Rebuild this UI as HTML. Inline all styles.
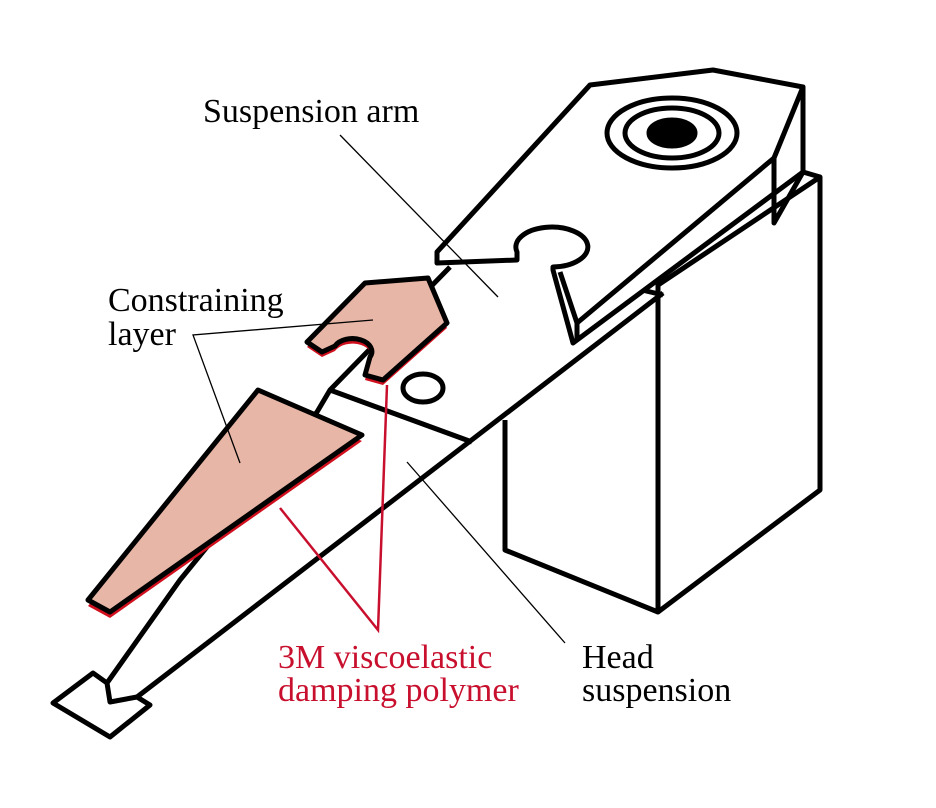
<!DOCTYPE html>
<html><head><style>body{margin:0;background:#fff}svg{display:block}</style></head><body>
<svg width="936" height="808" viewBox="0 0 936 808" xmlns="http://www.w3.org/2000/svg">
<g fill="none" stroke="#000" stroke-width="5" stroke-linejoin="round">
<!-- block -->
<polygon points="658,285 820,177 820,490 658,612" fill="#fff"/>
<polyline points="505,420 505,550 658,612"/>
<path d="M803,172 L820,177"/>
<!-- flexure -->
<path d="M450,267 L330,390 L317,412 L180,580 L107,683"/>
<path d="M330,390 L472,442"/>
<path d="M663,293 L137,697"/>
<path d="M642,290 L663,295"/>
<polygon points="53,703 93,673 107,683 110,702 137,697 150,705 110,737" fill="#fff"/>
<ellipse cx="423" cy="388" rx="20" ry="14"/>
<!-- arm -->
<path d="M437,252 L590,85 L713,70 L803,87 L803,172 L577,340 L573,343 L553,270 L553,267 A36,20 0 1 0 517,252 L517,260 L437,263 Z" fill="#fff"/>
<path d="M803,87 L774,158 L774,223 L803,172"/>
<path d="M774,158 L577,323 L560,272"/>
<path d="M577,323 L577,340"/>
<ellipse cx="672" cy="133" rx="65" ry="35"/>
<ellipse cx="672" cy="133" rx="47" ry="25"/>
<ellipse cx="672" cy="133" rx="23" ry="13" fill="#000"/>
</g>
<!-- constraining layers -->
<polygon points="258,396 362,441 110,618 88,606" fill="#d0101e"/>
<polygon points="258,390 362,435 110,612 88,600" fill="#e8b6a6" stroke="#000" stroke-width="5" stroke-linejoin="round"/>
<path transform="translate(0,5)" d="M365,283 L428,278 L447,323 L383,380 L365,375 L370,357 A18,12 0 0 0 335,346 L322,352 L307,342 Z" fill="#d0101e"/>
<path d="M365,283 L428,278 L447,323 L383,380 L365,375 L370,357 A18,12 0 0 0 335,346 L322,352 L307,342 Z" fill="#e8b6a6" stroke="#000" stroke-width="5" stroke-linejoin="round"/>
<!-- leaders -->
<g stroke="#000" stroke-width="1.3" fill="none">
<path d="M340,135 L498,297"/>
<path d="M373,320 L193,335 L240,463"/>
<path d="M407,462 L565,643"/>
</g>
<g stroke="#c8102e" stroke-width="2.5" fill="none">
<path d="M387,385 L378,630 L280,508"/>
</g>
<g font-family="Liberation Serif, serif" font-size="34">
<text x="203" y="122">Suspension arm</text>
<text x="108" y="311">Constraining</text>
<text x="108" y="345">layer</text>
<text x="278" y="668" fill="#c8102e">3M viscoelastic</text>
<text x="278" y="701" fill="#c8102e">damping polymer</text>
<text x="582" y="668">Head</text>
<text x="582" y="701">suspension</text>
</g>
</svg>
</body></html>
